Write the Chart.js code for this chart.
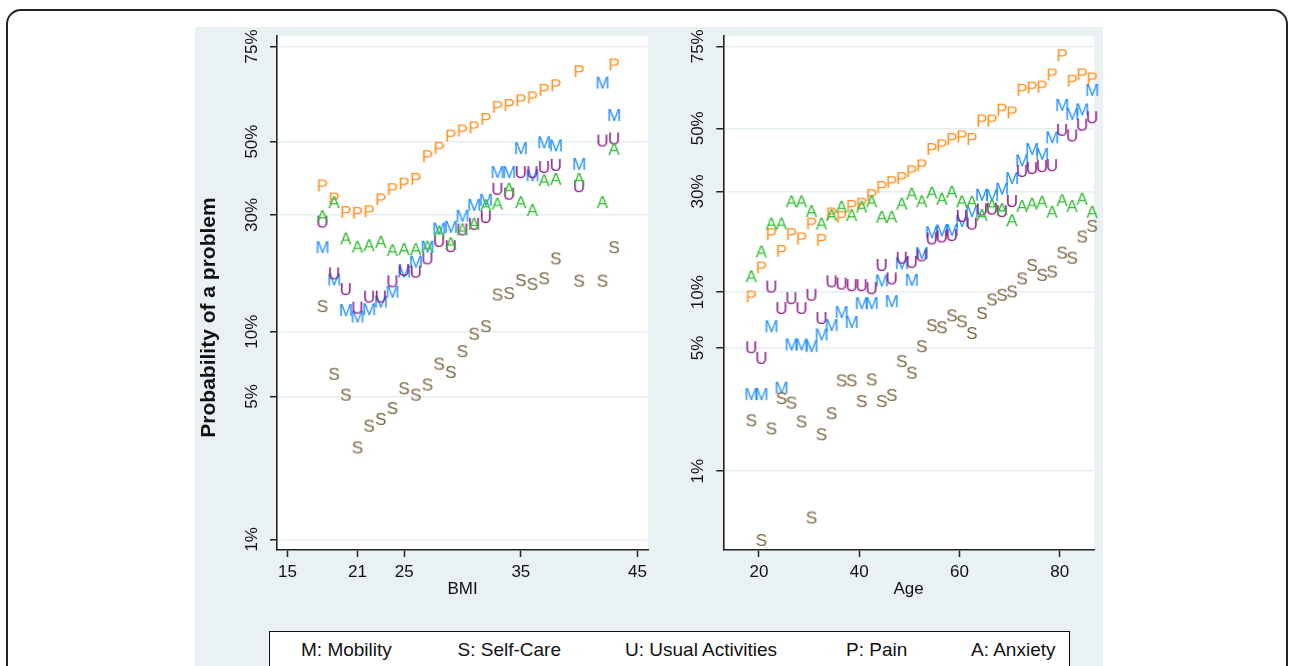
<!DOCTYPE html>
<html>
<head>
<meta charset="utf-8">
<script src="https://cdn.jsdelivr.net/npm/chart.js@4.4.0/dist/chart.umd.min.js"></script>
<style>
  body { margin: 0; background: #fff; width: 1289px; height: 666px; overflow: hidden; position: relative;
         font-family: "Liberation Sans", Arial, sans-serif; }
  #frame { position: absolute; left: 6px; top: 9px; width: 1278px; height: 720px; border: 2px solid #222; border-radius: 15px; }
  #panel { position: absolute; left: 195px; top: 27px; width: 908px; height: 660px; background: #E9F1F3; }
  .wrap { position: absolute; top: 27px; height: 600px; }
  #legend { position: absolute; left: 269px; top: 631px; width: 799px; height: 60px; border: 1.5px solid #111; background: #fff; }
  #legend span { position: absolute; top: 8.4px; font-size: 19px; line-height: 19px; white-space: nowrap; color: #111; }
</style>
</head>
<body>
<div id="frame"></div>
<div id="panel"></div>
<div class="wrap" style="left:195px;width:462px"><canvas id="bmiChart" width="462" height="600"></canvas></div>
<div class="wrap" style="left:657px;width:446px"><canvas id="ageChart" width="446" height="600"></canvas></div>
<div id="legend">
  <span style="left:31px">M: Mobility</span>
  <span style="left:187.5px">S: Self-Care</span>
  <span style="left:355px">U: Usual Activities</span>
  <span style="left:576px">P: Pain</span>
  <span style="left:701px">A: Anxiety</span>
</div>
<script>
// y ticks (percent)
const yTickValues = [1, 5, 10, 30, 50, 75];
const yTickLabels = ["1%", "5%", "10%", "30%", "50%", "75%"];

// BMI panel
const bmi = [18, 19, 20, 21, 22, 23, 24, 25, 26, 27, 28, 29, 30, 31, 32, 33, 34, 35, 36, 37, 38, 40, 42, 43];
const bmiTicks = [15, 21, 25, 35, 45];
const bmiMobility = [22.8, 16.9, 12.5, 11.7, 12.6, 13.6, 15.0, 18.2, 20.0, 22.9, 26.8, 27.2, 29.8, 32.5, 33.8, 41.3, 41.3, 48.1, 40.4, 49.8, 48.9, 43.6, 66.4, 57.6];
const bmiSelfCare = [13.0, 6.4, 5.1, 2.84, 3.62, 3.9, 4.4, 5.47, 5.1, 5.7, 7.14, 6.53, 8.16, 9.8, 10.6, 14.6, 14.8, 16.8, 16.2, 17.1, 20.6, 16.7, 16.7, 22.8];
const bmiUsual = [28.4, 17.9, 15.4, 12.8, 14.3, 14.3, 16.6, 18.5, 18.2, 20.6, 24.1, 23.0, 26.6, 27.9, 29.5, 36.7, 35.4, 41.3, 41.3, 42.7, 43.3, 37.4, 50.3, 50.9];
const bmiPain = [37.6, 34.1, 30.7, 30.5, 30.9, 33.9, 36.6, 38.1, 39.4, 45.8, 48.2, 51.7, 53.2, 54.1, 56.5, 59.9, 60.4, 61.7, 62.5, 64.5, 65.7, 69.3, null, 70.9];
const bmiAnxiety = [29.7, 33.2, 24.6, 22.9, 23.2, 23.9, 22.2, 22.4, 22.4, 22.9, 26.1, 23.6, 26.6, 27.9, 32.4, 32.8, 36.7, 33.2, 31.2, 39.0, 39.4, 39.4, 33.2, 47.9];

// Age panel
const age = [18.5, 20.5, 22.5, 24.5, 26.5, 28.5, 30.5, 32.5, 34.5, 36.5, 38.5, 40.5, 42.5, 44.5, 46.5, 48.5, 50.5, 52.5,
             54.5, 56.5, 58.5, 60.5, 62.5, 64.5, 66.5, 68.5, 70.5, 72.5, 74.5, 76.5, 78.5, 80.5, 82.5, 84.5, 86.5];
const ageTicks = [20, 40, 60, 80];
const ageMobility = [2.76, 2.76, 6.58, 3.0, 5.23, 5.23, 5.12, 5.93, 6.68, 7.85, 6.94, 8.76, 8.76, 11.5, 8.98, 14.1, 11.6, 15.8,
                     19.9, 20.3, 20.4, 22.4, 24.8, 29.1, 29.0, 30.8, 33.9, 39.4, 43.1, 41.5, 47.0, 57.8, 54.8, 56.3, 62.6];
const ageSelfCare = [1.96, 0.40, 1.76, 2.62, 2.47, 1.93, 0.54, 1.63, 2.15, 3.3, 3.3, 2.52, 3.34, 2.52, 2.73, 4.23, 3.64, 5.12,
                     6.67, 6.5, 7.54, 7.0, 6.05, 7.76, 9.17, 9.7, 10.1, 11.8, 13.8, 12.3, 12.8, 15.9, 15.0, 19.0, 21.3];
const ageUsual = [5.05, 4.41, 10.7, 8.25, 9.31, 8.25, 9.7, 7.29, 11.4, 11.1, 10.9, 10.9, 10.5, 13.8, 11.8, 15.0, 14.3, 15.4,
                  18.6, 19.0, 19.3, 23.6, 21.8, 25.2, 25.4, 24.8, 27.4, 36.1, 37.0, 37.6, 37.9, 49.5, 47.6, 51.2, 53.7];
const agePain = [9.5, 13.4, 19.5, 16.2, 19.5, 18.6, 21.8, 18.3, 24.2, 23.4, 26.1, 26.7, 29.0, 31.3, 32.7, 33.9, 36.0, 37.8,
                 43.1, 44.3, 46.4, 47.3, 46.4, 52.6, 52.6, 56.2, 55.3, 62.6, 63.3, 63.6, 67.3, 72.7, 65.4, 67.3, 66.1];
const ageAnxiety = [12.1, 16.1, 21.8, 21.8, 27.3, 27.3, 24.8, 21.8, 23.8, 25.9, 23.8, 25.9, 27.3, 23.4, 23.4, 26.7, 29.4, 27.3,
                    29.7, 28.0, 29.9, 27.3, 27.2, 23.8, 26.3, 25.3, 22.6, 26.1, 26.7, 27.2, 24.6, 27.6, 26.1, 28.0, 24.6];

const FONT = '"Liberation Sans", Arial, sans-serif';
const letters = { M: "#1F8FFF", S: "#7A6642", U: "#8C1F8C", P: "#FF8F1F", A: "#30BE30" };

// logit scale: values are stored in percent
function logit(p) {
    return p == null ? null : Math.log(p / (100 - p));
}

function letterMarker(ch) {
    const c = document.createElement("canvas");
    c.width = 20; c.height = 20;
    const g = c.getContext("2d");
    g.font = "17px " + FONT;
    g.fillStyle = letters[ch];
    g.textAlign = "center";
    g.textBaseline = "alphabetic";
    g.fillText(ch, 10, 16.1);
    return c;
}

function dataset(ch, xs, vals) {
    return {
        label: ch,
        data: xs.map((x, i) => ({ x: x, y: logit(vals[i]) })),
        pointStyle: letterMarker(ch),
        pointRadius: 8,
        pointHoverRadius: 8,
        showLine: false,
        clip: false
    };
}

const plotBg = {
    id: "plotBg",
    beforeDraw(chart) {
        const a = chart.chartArea;
        chart.ctx.save();
        chart.ctx.fillStyle = "#fff";
        chart.ctx.fillRect(a.left, a.top, a.right - a.left, a.bottom - a.top);
        chart.ctx.restore();
    }
};

// rotated y tick labels and y title, as drawn in the original
const yLabels = {
    id: "yLabels",
    afterDraw(chart, args, opts) {
        const ctx = chart.ctx, a = chart.chartArea, ys = chart.scales.y;
        ctx.save();
        ctx.fillStyle = "#111";
        ctx.font = "17px " + FONT;
        ctx.textAlign = "center";
        ctx.textBaseline = "middle";
        ys.ticks.forEach((t, i) => {
            ctx.save();
            ctx.translate(a.left - 24.5, ys.getPixelForValue(t.value));
            ctx.rotate(-Math.PI / 2);
            ctx.fillText(yTickLabels[i], 0, 0);
            ctx.restore();
        });
        if (opts.title) {
            ctx.font = "bold 21px " + FONT;
            ctx.translate(a.left - 68, (a.top + a.bottom) / 2 + 24.5);
            ctx.rotate(-Math.PI / 2);
            ctx.fillText(opts.title, 0, 0);
        }
        ctx.restore();
    }
};

function makeChart(id, xs, m, s, u, p, an, cfg) {
    return new Chart(document.getElementById(id), {
        type: "scatter",
        data: {
            datasets: [
                dataset("A", xs, an),
                dataset("P", xs, p),
                dataset("U", xs, u),
                dataset("S", xs, s),
                dataset("M", xs, m)
            ]
        },
        options: {
            responsive: false,
            animation: false,
            layout: { padding: { top: 6, right: cfg.rightPad, left: 0, bottom: 0 } },
            plugins: {
                legend: { display: false },
                tooltip: { enabled: false },
                yLabels: { title: cfg.yTitle }
            },
            scales: {
                x: {
                    type: "linear",
                    min: cfg.xMin,
                    max: cfg.xMax,
                    afterBuildTicks: (sc) => { sc.ticks = cfg.xTicks.map(v => ({ value: v })); },
                    afterFit: (sc) => { sc.height = 77; },
                    grid: { drawOnChartArea: false, tickLength: 7, tickColor: "#222", tickWidth: 1.5 },
                    border: { color: "#222", width: 1.6 },
                    ticks: { color: "#111", font: { size: 17, family: FONT }, padding: 5, maxRotation: 0, callback: v => String(v) },
                    title: { display: true, text: cfg.xTitle, color: "#111", font: { size: 17, family: FONT }, padding: { top: 0, bottom: 27 } }
                },
                y: {
                    type: "linear",
                    min: logit(cfg.yMin),
                    max: logit(cfg.yMax),
                    afterBuildTicks: (sc) => { sc.ticks = yTickValues.map(v => ({ value: logit(v) })); },
                    afterFit: (sc) => { sc.width = cfg.yWidth; },
                    grid: { color: "#E3EDF2", lineWidth: 1.5, tickLength: 7, tickColor: "#222", tickWidth: 1.5 },
                    border: { color: "#222", width: 1.6 },
                    ticks: { display: false }
                }
            }
        },
        plugins: [plotBg, yLabels]
    });
}

makeChart("bmiChart", bmi, bmiMobility, bmiSelfCare, bmiUsual, bmiPain, bmiAnxiety, {
    xMin: 14.1, xMax: 45.9, xTicks: bmiTicks, xTitle: "BMI",
    yMin: 0.885, yMax: 77.2, yWidth: 82, rightPad: 5.3, yTitle: "Probability of a problem"
});
makeChart("ageChart", age, ageMobility, ageSelfCare, ageUsual, agePain, ageAnxiety, {
    xMin: 12.9, xMax: 86.85, xTicks: ageTicks, xTitle: "Age",
    yMin: 0.35, yMax: 77.5, yWidth: 66.3, rightPad: 4.7, yTitle: null
});
</script>
</body>
</html>
